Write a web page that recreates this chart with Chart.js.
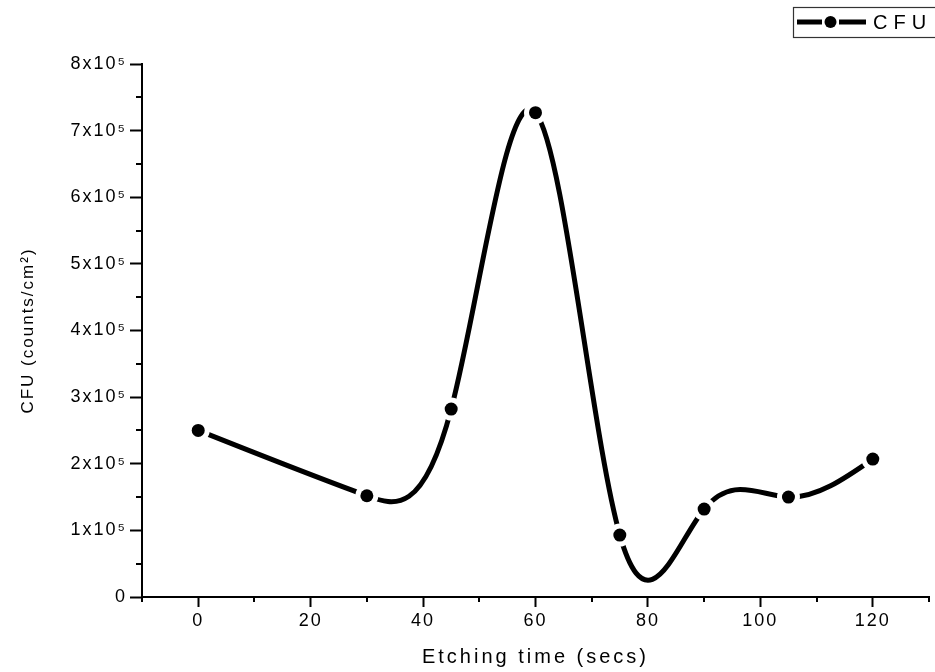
<!DOCTYPE html>
<html>
<head>
<meta charset="utf-8">
<script src="https://cdn.jsdelivr.net/npm/chart.js@4.4.1/dist/chart.umd.min.js"></script>
<style>
  html, body { margin: 0; padding: 0; background: #fff; }
  canvas { display: block; }
</style>
</head>
<body>
<canvas id="chart" width="935" height="672"></canvas>
<script>
// values
const times = [0, 30, 45, 60, 75, 90, 105, 120];
const cfu = [2.5e5, 1.52e5, 2.82e5, 7.27e5, 0.93e5, 1.32e5, 1.5e5, 2.07e5];
const seriesName = 'CFU';
const xTitle = 'Etching time (secs)';
const yTitle = 'CFU (counts/cm\u00B2)';

const FONT = "'Liberation Sans', Arial, sans-serif";

// tridiagonal solver (Thomas)
function solveTri(a, b, c, r) {
  const n = b.length;
  const cp = [], rp = [], x = [];
  cp[0] = c[0] / b[0];
  rp[0] = r[0] / b[0];
  for (let i = 1; i < n; i++) {
    const m = b[i] - a[i] * cp[i - 1];
    cp[i] = c[i] / m;
    rp[i] = (r[i] - a[i] * rp[i - 1]) / m;
  }
  x[n - 1] = rp[n - 1];
  for (let i = n - 2; i >= 0; i--) x[i] = rp[i] - cp[i] * x[i + 1];
  return x;
}

// swap Chart.js's control points for a natural cubic spline y(x)
const splinePlugin = {
  id: 'naturalSpline',
  beforeDatasetsDraw(chart) {
    const meta = chart.getDatasetMeta(0);
    const line = meta.dataset;
    if (line.updateControlPoints) line.updateControlPoints(chart.chartArea, 'x');
    const pts = meta.data;
    const n = pts.length;
    if (n < 3) return;
    const h = [];
    for (let i = 0; i < n - 1; i++) h.push(pts[i + 1].x - pts[i].x);
    const a = [], b = [], c = [], r = [];
    for (let i = 0; i < n; i++) {
      if (i === 0) {
        a.push(0); b.push(2 / h[0]); c.push(1 / h[0]);
        r.push(3 * (pts[1].y - pts[0].y) / (h[0] * h[0]));
      } else if (i === n - 1) {
        const hh = h[n - 2];
        a.push(1 / hh); b.push(2 / hh); c.push(0);
        r.push(3 * (pts[i].y - pts[i - 1].y) / (hh * hh));
      } else {
        const h0 = h[i - 1], h1 = h[i];
        a.push(1 / h0); b.push(2 * (1 / h0 + 1 / h1)); c.push(1 / h1);
        r.push(3 * ((pts[i].y - pts[i - 1].y) / (h0 * h0) + (pts[i + 1].y - pts[i].y) / (h1 * h1)));
      }
    }
    const m = solveTri(a, b, c, r);
    for (let i = 0; i < n; i++) {
      const p = pts[i];
      if (i < n - 1) {
        p.cp2x = p.x + h[i] / 3;
        p.cp2y = p.y + m[i] * h[i] / 3;
      }
      if (i > 0) {
        p.cp1x = p.x - h[i - 1] / 3;
        p.cp1y = p.y - m[i] * h[i - 1] / 3;
      }
    }
    line._path = undefined;
  },
  // white halo round each marker, as in the original plot
  afterDatasetsDraw(chart) {
    const ctx = chart.ctx;
    ctx.save();
    chart.getDatasetMeta(0).data.forEach(p => {
      ctx.fillStyle = '#fff';
      ctx.beginPath();
      ctx.arc(p.x, p.y, 11.5, 0, Math.PI * 2);
      ctx.fill();
      ctx.fillStyle = '#000';
      ctx.beginPath();
      ctx.arc(p.x, p.y, 6.5, 0, Math.PI * 2);
      ctx.fill();
    });
    ctx.restore();
  }
};

// spaced lettering, minor ticks and the boxed legend
const decorPlugin = {
  id: 'decor',
  beforeDraw(chart) {
    // x title is drawn in the first pass
    chart.ctx.letterSpacing = '3px';
  },
  afterDatasetsDraw(chart) {
    // y title and all tick labels are drawn in the later pass
    chart.ctx.letterSpacing = '2px';
  },
  afterDraw(chart) {
    const ctx = chart.ctx;
    const xs = chart.scales.x, ys = chart.scales.y;
    ctx.save();
    ctx.strokeStyle = '#000';
    ctx.lineWidth = 2;
    ctx.beginPath();
    xs.ticks.forEach(t => {
      if (t.value % 20 !== 0) {
        const px = Math.round(xs.getPixelForValue(t.value));
        ctx.moveTo(px, ys.bottom);
        ctx.lineTo(px, ys.bottom + 5);
      }
    });
    ys.ticks.forEach(t => {
      if (t.value % 1e5 !== 0) {
        const py = Math.round(ys.getPixelForValue(t.value));
        ctx.moveTo(xs.left - 6, py);
        ctx.lineTo(xs.left, py);
      }
    });
    ctx.stroke();

    // legend
    ctx.lineWidth = 1.2;
    ctx.strokeStyle = '#333';
    ctx.strokeRect(793.5, 7.5, 160, 30);
    ctx.strokeStyle = '#000';
    ctx.lineWidth = 5;
    ctx.beginPath();
    ctx.moveTo(797, 22); ctx.lineTo(822, 22);
    ctx.moveTo(839, 22); ctx.lineTo(866, 22);
    ctx.stroke();
    ctx.fillStyle = '#000';
    ctx.beginPath();
    ctx.arc(830.5, 22, 6, 0, Math.PI * 2);
    ctx.fill();
    ctx.letterSpacing = '6px';
    ctx.font = '20px ' + FONT;
    ctx.textAlign = 'left';
    ctx.textBaseline = 'middle';
    ctx.fillText(seriesName, 873, 23);
    ctx.restore();
  }
};

new Chart(document.getElementById('chart'), {
  type: 'line',
  data: {
    datasets: [{
      label: seriesName,
      data: times.map((t, i) => ({ x: t, y: cfu[i] })),
      borderColor: '#000',
      borderWidth: 5,
      tension: 0.4,
      fill: false,
      pointRadius: 6,
      pointBorderWidth: 0,
      pointBackgroundColor: '#000',
      clip: false
    }]
  },
  options: {
    responsive: false,
    animation: false,
    events: [],
    layout: { padding: { left: 0, top: 64, right: 3, bottom: 0 } },
    plugins: {
      legend: { display: false },
      tooltip: { enabled: false }
    },
    scales: {
      x: {
        type: 'linear',
        min: -10,
        max: 130,
        afterFit(scale) { scale.height = 75; },
        border: { display: true, color: '#000', width: 2 },
        grid: {
          drawOnChartArea: false,
          drawTicks: true,
          tickLength: 10,
          tickWidth: 2,
          tickColor: c => (c.tick && c.tick.value % 20 === 0) ? '#000' : 'rgba(0,0,0,0)'
        },
        ticks: {
          z: 1,
          stepSize: 10,
          autoSkip: false,
          maxRotation: 0,
          padding: 3,
          color: '#000',
          font: { family: FONT, size: 18 },
          callback: v => (v % 20 === 0 && v >= 0 && v <= 120) ? String(v) : ''
        },
        title: {
          display: true,
          text: xTitle,
          color: '#000',
          font: { family: FONT, size: 20 },
          padding: { top: 0, bottom: 3 }
        }
      },
      y: {
        type: 'linear',
        min: 0,
        max: 8e5,
        afterFit(scale) { scale.width = 142; },
        border: { display: true, color: '#000', width: 2, z: 1 },
        grid: {
          z: 1,
          drawOnChartArea: false,
          drawTicks: true,
          tickLength: 12,
          tickWidth: 2,
          tickColor: c => (c.tick && c.tick.value % 1e5 === 0) ? '#000' : 'rgba(0,0,0,0)'
        },
        ticks: {
          z: 1,
          stepSize: 5e4,
          autoSkip: false,
          padding: 3,
          color: '#000',
          font: { family: FONT, size: 18 },
          callback: v => v === 0 ? '0' : (v % 1e5 === 0 ? (v / 1e5) + 'x10\u2075' : '')
        },
        title: {
          display: true,
          text: yTitle,
          color: '#000',
          font: { family: FONT, size: 17 },
          padding: { top: 18, bottom: 0 }
        }
      }
    }
  },
  plugins: [splinePlugin, decorPlugin]
});
</script>
</body>
</html>
